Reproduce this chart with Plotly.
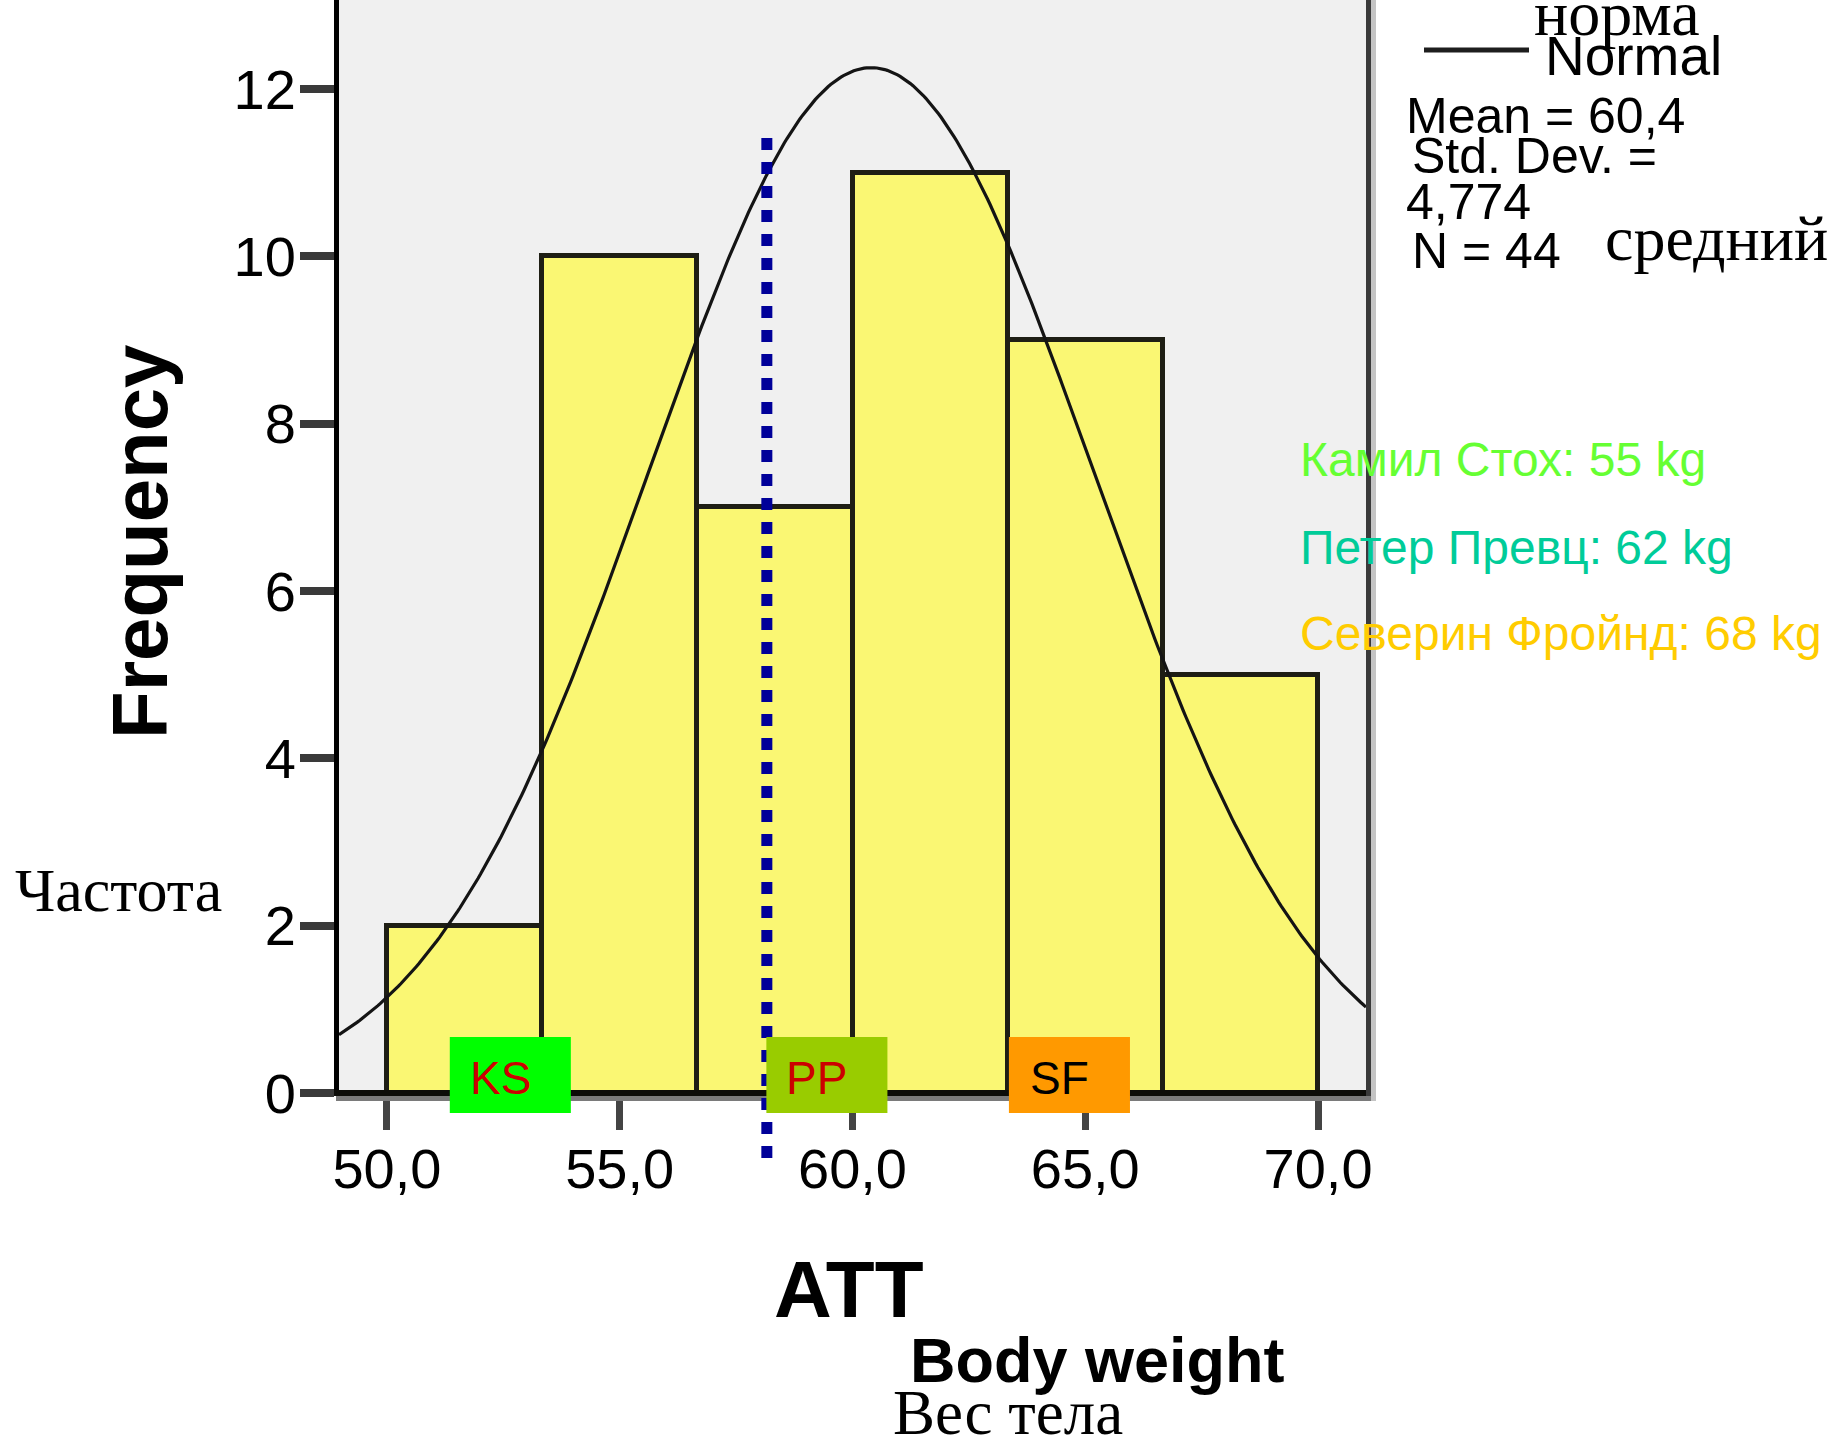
import numpy as np
import plotly.graph_objects as go

# ---------------- data ----------------
BIN_EDGES = [50.0, 53.333, 56.667, 60.0, 63.333, 66.667, 70.0]
COUNTS = [2, 10, 7, 11, 9, 5]
MEAN = 60.4
STD_DEV = 4.774
N_OBS = 44

X_TICKS = [50, 55, 60, 65, 70]
X_TICK_TEXT = ["50,0", "55,0", "60,0", "65,0", "70,0"]
Y_TICKS = [0, 2, 4, 6, 8, 10, 12]
Y_TICK_TEXT = ["0", "2", "4", "6", "8", "10", "12"]

# marker line (dotted) and athlete boxes
REF_LINE_X = 58.16
REF_LINE_Y = [11.414, -0.777]
BOX_LABELS = ["KS", "PP", "SF"]
BOX_CENTERS = [52.65, 59.45, 64.66]
BOX_WIDTH = 2.6
BOX_Y = [-0.239, 0.669]
BOX_FILL = ["#00FF00", "#99CC00", "#FF9900"]
BOX_TEXT_COLOR = ["#CC0000", "#CC0000", "#000000"]

ATHLETES = ["Камил Стох: 55 kg", "Петер Превц: 62 kg", "Северин Фройнд: 68 kg"]
ATHLETE_COLORS = ["#66FF33", "#00CC99", "#FFCC00"]

X_RANGE = [48.97, 71.03]
Y_RANGE = [0, 13.064]

# ---------------- layout geometry ----------------
W, H = 1837, 1440
ML, MR, MT, MB = 339, 471, 0, 347
SANS = "Liberation Sans, Arial, sans-serif"
SERIF = "Liberation Serif, Times New Roman, serif"


def pxx(px):
    return (px - ML) / (W - ML - MR)


def pxy(py):
    return (H - MB - py) / (H - MB - MT)


def yp(v):
    return (v - Y_RANGE[0]) / (Y_RANGE[1] - Y_RANGE[0])


# ---------------- traces ----------------
centers = [(BIN_EDGES[i] + BIN_EDGES[i + 1]) / 2 for i in range(len(COUNTS))]
bin_w = BIN_EDGES[1] - BIN_EDGES[0]

fig = go.Figure()
fig.add_trace(go.Bar(
    x=centers, y=COUNTS, width=bin_w,
    marker=dict(color="#FAF773", line=dict(color="#1E1E14", width=5)),
    hoverinfo="skip", showlegend=False,
))

xs = np.linspace(X_RANGE[0], X_RANGE[1], 400)
ys = N_OBS * bin_w / (STD_DEV * np.sqrt(2 * np.pi)) * np.exp(-0.5 * ((xs - MEAN) / STD_DEV) ** 2)
fig.add_trace(go.Scatter(
    x=xs, y=ys, mode="lines", line=dict(color="#141414", width=3.2),
    hoverinfo="skip", showlegend=False,
))

shapes = []
# shadow under x axis
shapes.append(dict(type="line", xref="paper", yref="paper", x0=pxx(336), x1=pxx(1371),
                   y0=pxy(1098.5), y1=pxy(1098.5), line=dict(color="#7A7A7A", width=5), layer="above"))
# x axis line at y = 0 (bottom of plot area)
shapes.append(dict(type="line", xref="paper", yref="paper", x0=pxx(334), x1=pxx(1371),
                   y0=yp(0), y1=yp(0), line=dict(color="#0C0C08", width=6), layer="above"))
# right border
shapes.append(dict(type="line", xref="paper", yref="paper", x0=pxx(1368.5), x1=pxx(1368.5),
                   y0=pxy(1096), y1=1, line=dict(color="#3A3A3A", width=5), layer="above"))
shapes.append(dict(type="line", xref="paper", yref="paper", x0=pxx(1373.5), x1=pxx(1373.5),
                   y0=pxy(1101), y1=1, line=dict(color="#C4C4C4", width=5), layer="above"))
# dotted reference line
shapes.append(dict(type="line", xref="x", yref="paper", x0=REF_LINE_X, x1=REF_LINE_X,
                   y0=yp(REF_LINE_Y[0]), y1=yp(REF_LINE_Y[1]),
                   line=dict(color="#000099", width=11, dash="12px,12px"), layer="above"))
# athlete boxes
for c, col in zip(BOX_CENTERS, BOX_FILL):
    shapes.append(dict(type="rect", xref="x", yref="paper",
                       x0=c - BOX_WIDTH / 2, x1=c + BOX_WIDTH / 2,
                       y0=yp(BOX_Y[0]), y1=yp(BOX_Y[1]),
                       fillcolor=col, line=dict(width=0), layer="above"))
# legend line
shapes.append(dict(type="line", xref="paper", yref="paper", x0=pxx(1424), x1=pxx(1529),
                   y0=pxy(50), y1=pxy(50), line=dict(color="#1E1E1E", width=5), layer="above"))

annotations = []
for lab, c, tc in zip(BOX_LABELS, BOX_CENTERS, BOX_TEXT_COLOR):
    annotations.append(dict(x=c, y=(BOX_Y[0] + BOX_Y[1]) / 2, xref="x", yref="y",
                            text=lab, showarrow=False, xshift=-10, yshift=-3,
                            font=dict(family=SANS, size=46, color=tc)))


def ann(text, x, y, size, family=SANS, anchor="center", color="black", angle=0):
    annotations.append(dict(x=pxx(x), y=pxy(y), xref="paper", yref="paper", text=text,
                            showarrow=False, xanchor=anchor, yanchor="middle",
                            textangle=angle, font=dict(family=family, size=size, color=color)))


ann("<b>Frequency</b>", 140, 542, 78, angle=-90)
ann("Частота", 118, 890, 62, family=SERIF)
ann("<b>ATT</b>", 849, 1289, 80)
ann("<b>Body weight</b>", 1097, 1360, 63)
ann("Вес тела", 1008, 1413, 63, family=SERIF)
ann("норма", 1617, 13, 64, family=SERIF)
ann("Normal", 1543, 56, 55, anchor="left")
ann("Mean = 60,4", 1404, 116, 50, anchor="left")
ann("Std. Dev. =", 1410, 156, 50, anchor="left")
ann("4,774", 1404, 202, 50, anchor="left")
ann("N = 44", 1410, 251, 50, anchor="left")
ann("средний", 1716, 238, 64, family=SERIF)
for t, col, yy in zip(ATHLETES, ATHLETE_COLORS, [459, 547, 633]):
    ann(t, 1298, yy, 48, anchor="left", color=col)

fig.update_layout(
    width=W, height=H,
    margin=dict(l=ML, r=MR, t=MT, b=MB, pad=0),
    paper_bgcolor="white", plot_bgcolor="#F0F0F0",
    bargap=0, showlegend=False, hovermode=False,
    font=dict(family=SANS, color="black"),
    shapes=shapes, annotations=annotations,
    xaxis=dict(range=X_RANGE, showgrid=False, zeroline=False, showline=False,
               ticks="outside", ticklen=36, tickwidth=7,
               tickcolor="#444444", tickvals=X_TICKS, ticktext=X_TICK_TEXT,
               ticklabelstandoff=-9,
               tickfont=dict(family=SANS, size=56, color="black")),
    yaxis=dict(range=Y_RANGE, showgrid=False, zeroline=False, showline=True,
               linecolor="black", linewidth=5, ticks="outside", ticklen=34, tickwidth=8,
               tickcolor="#3A3A3A", tickvals=Y_TICKS, ticktext=Y_TICK_TEXT,
               ticklabelstandoff=-7,
               tickfont=dict(family=SANS, size=56, color="black")),
)

fig.write_html("out.html", config={"displayModeBar": False},
               post_script="document.body.style.margin='0';document.body.style.padding='0';")
